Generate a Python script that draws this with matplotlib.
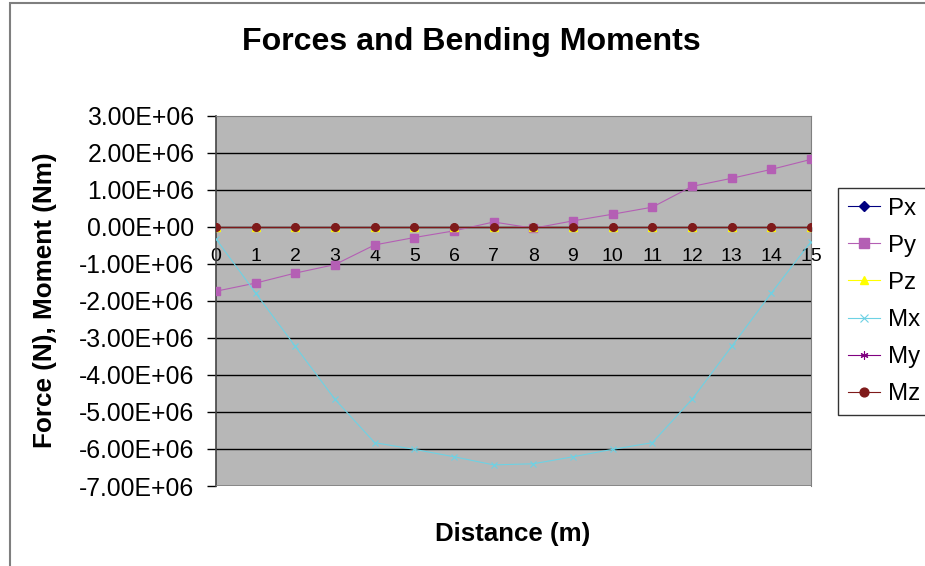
import numpy as np
import matplotlib
matplotlib.use("Agg")
import matplotlib.pyplot as plt
from matplotlib.patches import Rectangle
from matplotlib.ticker import FuncFormatter

plt.rcParams['font.family'] = ['Liberation Sans', 'DejaVu Sans']

# distance along the beam (m)
distance = list(range(16))

# forces (N) and moments (Nm)
px = [0.0] * 16
py = [-1.74e6, -1.52e6, -1.25e6, -1.02e6, -0.49e6, -0.29e6, -0.11e6, 0.13e6,
      -0.04e6, 0.16e6, 0.34e6, 0.53e6, 1.09e6, 1.31e6, 1.55e6, 1.82e6]
pz = [0.0] * 16
mx = [-0.33e6, -1.79e6, -3.23e6, -4.66e6, -5.83e6, -6.01e6, -6.21e6, -6.43e6,
      -6.40e6, -6.21e6, -6.01e6, -5.83e6, -4.66e6, -3.23e6, -1.79e6, -0.40e6]
my = [0.0] * 16
mz = [0.0] * 16

y_ticks = [3e6, 2e6, 1e6, 0, -1e6, -2e6, -3e6, -4e6, -5e6, -6e6, -7e6]

fig = plt.figure(figsize=(9.25, 5.66), dpi=100)
ax = fig.add_axes([216 / 925, 1 - 486 / 566, 595 / 925, (486 - 115.7) / 566])
ax.set_facecolor('#b7b7b7')

# chart area border (runs past the right/bottom of the image)
fig.patches.append(Rectangle((10 / 925, -0.1), 1.2, 1 - 3 / 566 + 0.1,
                             transform=fig.transFigure, fill=False,
                             edgecolor='#7f7f7f', linewidth=1.5))

for yv in y_ticks[1:-1]:
    ax.axhline(yv, color='black', linewidth=1.0, zorder=1)

lw = 0.8
ax.plot(distance, px, color='#000080', marker='D', markersize=4, linewidth=lw, label='Px', zorder=3)
ax.plot(distance, py, color='#b45fb4', marker='s', markersize=6, linewidth=lw, label='Py', zorder=3)
ax.plot(distance, pz, color='#ffff00', marker='^', markersize=5.5, linewidth=lw, label='Pz', zorder=3)
ax.plot(distance, mx, color='#6dd2e4', marker='x', markersize=5, markeredgewidth=0.8, linewidth=lw, label='Mx', zorder=3)
ax.plot(distance, my, color='#800080', marker=(6, 2, 0), markersize=5, markeredgewidth=0.8, linewidth=lw, label='My', zorder=3)
ax.plot(distance, mz, color='#7f1a1a', marker='o', markersize=5.5, linewidth=lw, label='Mz', zorder=4)

ax.set_xlim(0, 15)
ax.set_ylim(-7e6, 3e6)
ax.set_xticks(distance)
ax.set_yticks(y_ticks)
ax.yaxis.set_major_formatter(FuncFormatter(lambda v, p: f"{v:.2E}"))

ax.spines['bottom'].set_position(('data', 0))
ax.spines['bottom'].set_color('#222222')
ax.spines['bottom'].set_zorder(2)
ax.spines['left'].set_color('#444444')
ax.spines['left'].set_linewidth(1.2)
ax.spines['top'].set_color('#808080')
ax.spines['right'].set_color('#808080')
ax.axhline(-7e6, color='#808080', linewidth=1.2, zorder=5)

ax.tick_params(axis='y', direction='out', length=6.5, width=1, pad=9,
               labelsize=17.8, colors='black')
ax.tick_params(axis='x', direction='out', length=3, width=1, pad=12.5,
               labelsize=14, colors='black')

fig.text(471 / 925, 1 - 42 / 566, 'Forces and Bending Moments',
         ha='center', va='center', fontsize=23.1, fontweight='bold')
fig.text(513 / 925, 1 - 534 / 566, 'Distance (m)',
         ha='center', va='center', fontsize=18.6, fontweight='bold')
fig.text(45 / 925, 1 - 300 / 566, 'Force (N), Moment (Nm)', rotation=90,
         ha='center', va='center', fontsize=18.8, fontweight='bold')

leg = ax.legend(loc='upper left',
                bbox_to_anchor=(838 / 925, 1 - 412 / 566, 110 / 925, 224 / 566),
                bbox_transform=fig.transFigure, borderaxespad=0, mode='expand',
                fontsize=17.3, frameon=True, fancybox=False, edgecolor='black',
                handlelength=1.35, handletextpad=0.35, labelspacing=0.63,
                borderpad=0.4, markerscale=1.15)
leg.get_frame().set_linewidth(1.0)
leg.get_frame().set_facecolor('white')

fig.savefig('out.png', dpi=100)
